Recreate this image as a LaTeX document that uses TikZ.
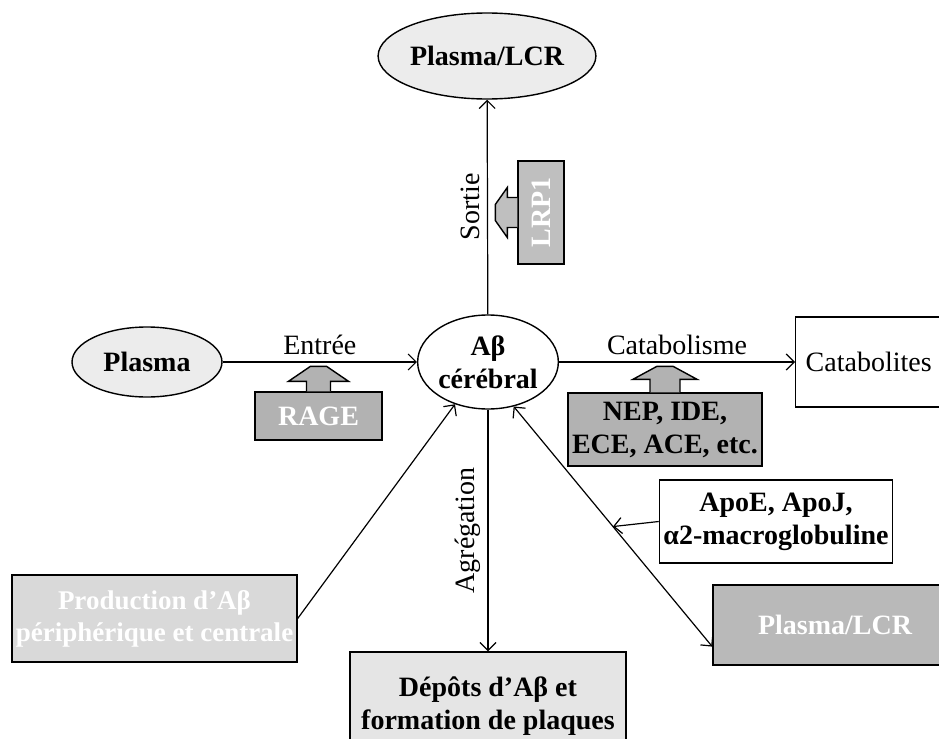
\documentclass[tikz,border=0pt]{standalone}
\usepackage{fontspec}
\setmainfont{Liberation Serif}
\usetikzlibrary{shapes.geometric,arrows.meta}
\begin{document}
\begin{tikzpicture}[x=0.5pt,y=-0.5pt,
    font=\fontsize{14}{16.5}\selectfont,
    >={Straight Barb[length=4pt,width=8pt]},
    gras/.style={font=\fontsize{14}{16.5}\selectfont\bfseries},
    oval/.style={ellipse,draw,line width=0.7pt,fill=gray!15,gras,inner sep=0pt},
    boite/.style={rectangle,draw,line width=0.7pt,align=center,inner sep=2pt},
    fleche/.style={draw,line width=0.7pt,fill=gray!60}]
  \useasboundingbox (0,0) rectangle (939,739);
  % ovales
  \node[oval,minimum width=97pt,minimum height=43pt] (lcr) at (487,56) {Plasma/LCR};
  \node[oval,fill=white,align=center,minimum width=60pt,minimum height=47pt] (abeta) at (488,362) {Aβ\\cérébral};
  \node[oval,minimum width=75pt,minimum height=35pt] (plasma) at (147,362) {Plasma};
  % boites
  \node[boite,anchor=west,text width=85pt,align=left,inner xsep=5pt,minimum height=45pt] (catab) at (795,362) {Catabolites};
  \node[boite,gras,fill=gray!60,text=white,minimum width=63.5pt,minimum height=24pt] (rage) at (318.5,416) {RAGE};
  \node[boite,gras,fill=gray!60,minimum width=93pt,minimum height=36.5pt] (nep) at (665,429.5) {NEP, IDE,\\ECE, ACE, etc.};
  \node[boite,gras,fill=gray!50,text=white,minimum width=23pt,minimum height=51.5pt] (lrp) at (541,212.5) {\rotatebox{90}{LRP1}};
  \node[boite,gras,minimum width=114pt,minimum height=41.5pt] (apo) at (776,521.5) {ApoE, ApoJ,\\α2-macroglobuline};
  \node[boite,gras,fill=gray!55,text=white,minimum width=122pt,minimum height=40pt] (lcrbox) at (835,625) {Plasma/LCR};
  \node[boite,fill=gray!30,text=white,inner sep=0pt,font=\fontsize{13.5}{16}\selectfont\bfseries,minimum width=142.5pt,minimum height=43.5pt] (prod) at (154.5,618.5) {Production d'Aβ\\périphérique et centrale};
  \node[boite,gras,fill=gray!20,minimum width=138pt,minimum height=54pt] (depots) at (488,706) {Dépôts d'Aβ et\\formation de plaques};
  % grosses fleches
  \draw[fleche] (rage.north) ++(-12,0) -- ++(0,-10) -- ++(-18,0) -- ++(22,-15) -- ++(16,0) -- ++(22,15) -- ++(-18,0) -- ++(0,10);
  \draw[fleche] (nep.north) ++(-15,0) -- ++(0,-13) -- ++(-17,0) -- ++(24,-13) -- ++(16,0) -- ++(24,13) -- ++(-17,0) -- ++(0,13);
  \draw[fleche,fill=gray!50] (lrp.west) ++(0,-15) -- ++(-10,0) -- ++(0,-10) -- ++(-12,17) -- ++(0,16) -- ++(12,17) -- ++(0,-10) -- ++(10,0);
  % liaisons
  \begin{scope}[->,line width=0.6pt]
    \draw (abeta) -- node[midway,above,rotate=90] (sortie) {Sortie} (lcr);
    \draw (plasma) -- node[above] (entree) {Entrée} (abeta);
    \draw (abeta) -- node[above] (catabolisme) {Catabolisme} (catab);
    \draw (abeta) -- node[midway,above,rotate=90] (agreg) {Agrégation} (depots);
    \draw (prod.east) -- (abeta.232);
    \draw[<->] (abeta.-60) -- coordinate[pos=0.5] (milieu) (lcrbox.190);
    \draw (apo.west) -- (milieu);
  \end{scope}
\end{tikzpicture}
\end{document}
